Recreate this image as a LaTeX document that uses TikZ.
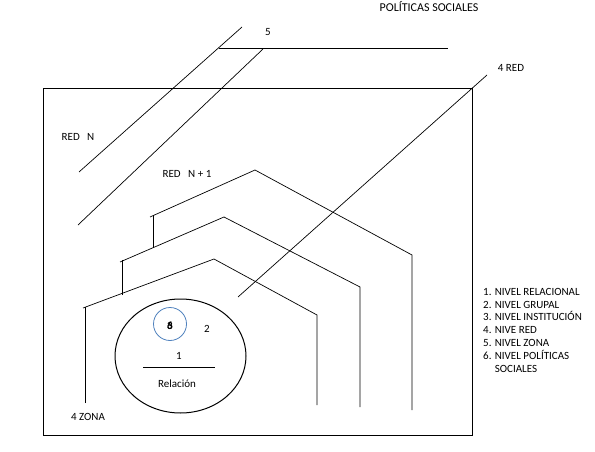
\documentclass[tikz,border=0pt]{standalone}
\usepackage{fontspec}
\setmainfont{Carlito}
\definecolor{circblue}{RGB}{79,129,189}
\begin{document}
\begin{tikzpicture}[x=1pt,y=-1pt,
  ln/.style={line width=0.7pt,black},
  lbl/.style={font=\fontsize{11}{12.8}\selectfont,inner sep=0pt}]
\useasboundingbox (0,0) rectangle (595,452);
% frame
\draw[line width=0.9pt] (43,88) rectangle (472,435);
% top diagonals and zone line
\draw[ln] (242,27) -- (79,172);
\draw[ln] (263,49) -- (78,225);
\draw[ln] (219,48) -- (448,48);
% 4 RED diagonal
\draw[ln] (487,75) -- (238,297);
% outer house
\draw[ln] (153,247) -- (153,215);
\draw[ln] (150,217) -- (255,170) -- (412,255) -- (412,410);
% middle house
\draw[ln] (122,295) -- (122,260);
\draw[ln] (120,262) -- (224,217) -- (360,287) -- (360,407);
% inner house
\draw[ln] (85,403) -- (85,307);
\draw[ln] (83,308) -- (214,259) -- (317,315) -- (317,405);
% ellipse
\draw[line width=1pt] (180.5,356) ellipse [x radius=65.5, y radius=57];
\draw[circblue,line width=0.8pt] (170,324) circle [radius=16.5];
\draw[ln] (143,367) -- (215,367);
% labels
\node[lbl,font=\fontsize{12}{14}\selectfont] (pol) at (429,7) {POLÍTICAS SOCIALES};
\node[lbl] (five) at (268,32) {5};
\node[lbl] (red4) at (511,68) {4 RED};
\node[lbl] (redn) at (78,137) {RED\ \ \ N};
\node[lbl] (redn1) at (187,174) {RED\ \ \ N + 1};
\node[lbl,font=\fontsize{11}{12.8}\selectfont\bfseries] (six) at (170,326) {6};
\node[lbl,font=\fontsize{11}{12.8}\selectfont\bfseries] (three) at (170,326) {3};
\node[lbl] (two) at (207,329) {2};
\node[lbl] (one) at (179,356) {1};
\node[lbl] (rel) at (177,384) {Relación};
\node[lbl] (zona) at (88,417) {4 ZONA};
\node[lbl,anchor=north west,align=left] (leg) at (483,288) {1. NIVEL RELACIONAL\\2. NIVEL GRUPAL\\3. NIVEL INSTITUCIÓN\\4. NIVE RED\\5. NIVEL ZONA\\6. NIVEL POLÍTICAS\\\hphantom{6. }SOCIALES};
\end{tikzpicture}
\end{document}
